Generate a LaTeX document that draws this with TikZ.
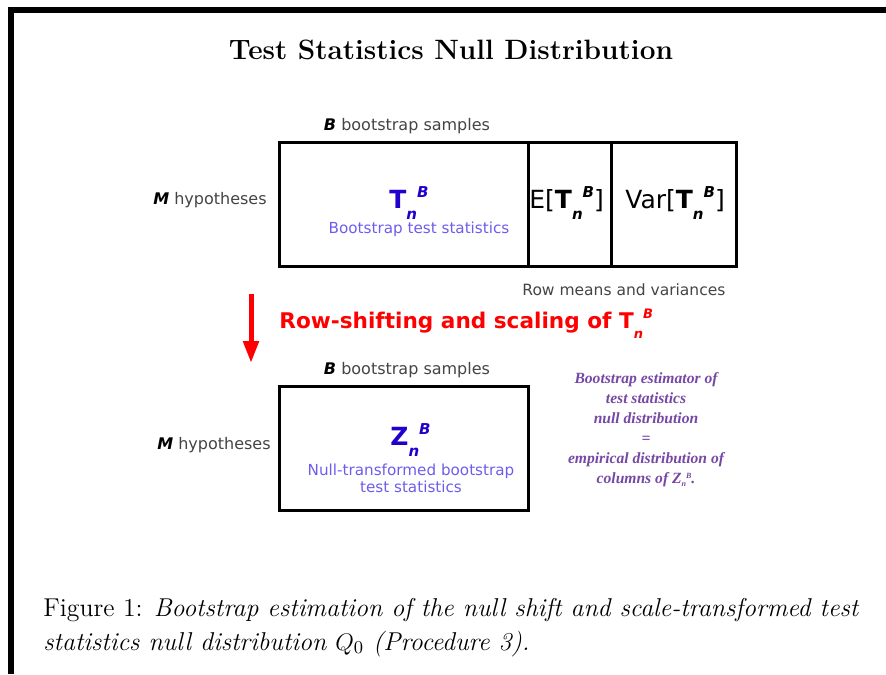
\documentclass[tikz,border=0pt]{standalone}
\usepackage{fontspec}
\usetikzlibrary{arrows.meta}
\newfontfamily\dvs{DejaVu Sans}
\newfontfamily\libserif{Liberation Serif}
\definecolor{symblue}{RGB}{34,0,204}
\definecolor{lblblue}{RGB}{110,92,235}
\definecolor{notepurple}{RGB}{118,72,165}
\definecolor{softgray}{RGB}{68,68,68}
% lowered n followed by raised B, as in T_n^B
\newcommand\nBidx[2]{\raisebox{-#2}{\fontsize{#1}{#1}\selectfont\bfseries\itshape n}\raisebox{#2}{\fontsize{#1}{#1}\selectfont\bfseries\itshape B}}
\tikzset{
  cell/.style={draw, line width=1.5pt, inner sep=0pt, minimum height=62pt},
  sym/.style={inner sep=0pt, anchor=base west, font=\dvs\fontsize{12.5}{15}\selectfont},
  small/.style={inner sep=0pt, font=\dvs\fontsize{8}{10}\selectfont, text=softgray},
  lbl/.style={inner sep=0pt, font=\dvs\fontsize{7.6}{8.5}\selectfont, text=lblblue},
  note/.style={inner sep=0pt, align=center, text=notepurple,
    font=\libserif\bfseries\itshape\fontsize{7.8}{10}\selectfont},
}
\begin{document}
\begin{tikzpicture}[x=0.5pt,y=-0.5pt]
\useasboundingbox (0,0) rectangle (886,674);
% page frame bars
\fill (8,7) rectangle (886,13);
\fill (8,7) rectangle (14,674);

\node[anchor=base, inner sep=0pt, font=\fontsize{14}{17}\selectfont\bfseries] (title) at (451,60) {Test Statistics Null Distribution};

% upper matrix: bootstrap statistics with row means and variances
\node[cell, minimum width=124.5pt] (tcell) at (403.5,204) {};
\node[cell, minimum width=41.5pt] (ecell) at (569.5,204) {};
\node[cell, minimum width=62.5pt] (vcell) at (673.5,204) {};

\node[small, anchor=base] (bsamp1) at (407,130) {\textcolor{black}{\bfseries\itshape B} bootstrap samples};
\node[small, anchor=base east] (mhyp1) at (267,204) {\textcolor{black}{\bfseries\itshape M} hypotheses};
\node[sym, text=symblue] (tsym) at (389,208) {\bfseries T\nBidx{7.5}{5.5pt}};
\node[lbl, anchor=base] (tlab) at (419,233) {Bootstrap test statistics};
\node[sym] (esym) at (529,208) {E[{\bfseries T}\nBidx{7.5}{5.5pt}]};
\node[sym] (vsym) at (625,208) {Var[{\bfseries T}\nBidx{7.5}{5.5pt}]};
\node[small, anchor=base west, font=\dvs\fontsize{7.75}{10}\selectfont] (rowmv) at (522,295) {Row means and variances};

% transformation step
\coordinate (arrtop) at (251,294);
\coordinate (arrbot) at (251,363);
\draw[red, line width=2.5pt, -{Triangle[width=7.5pt,length=11pt]}] (arrtop) -- (arrbot);
\node[inner sep=0pt, anchor=base west, text=red, font=\dvs\bfseries\fontsize{10.8}{13}\selectfont] (shift) at (279,328) {Row-shifting and scaling of T\nBidx{6.5}{5pt}};

% lower matrix: null-transformed statistics
\node[cell, minimum width=124.5pt] (zcell) at (403.5,448) {};
\node[small, anchor=base] (bsamp2) at (407,374) {\textcolor{black}{\bfseries\itshape B} bootstrap samples};
\node[small, anchor=base east] (mhyp2) at (271,449) {\textcolor{black}{\bfseries\itshape M} hypotheses};
\node[sym, text=symblue] (zsym) at (390,445) {\bfseries Z\nBidx{7.5}{5.5pt}};
\node[lbl, anchor=base, align=center] (zlab) at (411,492) {Null-transformed bootstrap\\test statistics};

\node[note] (est) at (646,430) {Bootstrap estimator of\\test statistics\\null distribution\\=\\empirical distribution of\\columns of Z\raisebox{-1.5pt}{\fontsize{4}{4}\selectfont n}\raisebox{2.5pt}{\fontsize{4}{4}\selectfont B}.};

% caption
\node[anchor=base west, inner sep=0pt, font=\fontsize{12.9}{17}\selectfont] (cap1) at (43,616) {Figure 1: \itshape Bootstrap estimation of the null shift and scale-transformed test};
\node[anchor=base west, inner sep=0pt, font=\fontsize{12.9}{17}\selectfont\itshape] (cap2) at (43,650) {statistics null distribution $Q_0$ (Procedure 3).};
\end{tikzpicture}
\end{document}
